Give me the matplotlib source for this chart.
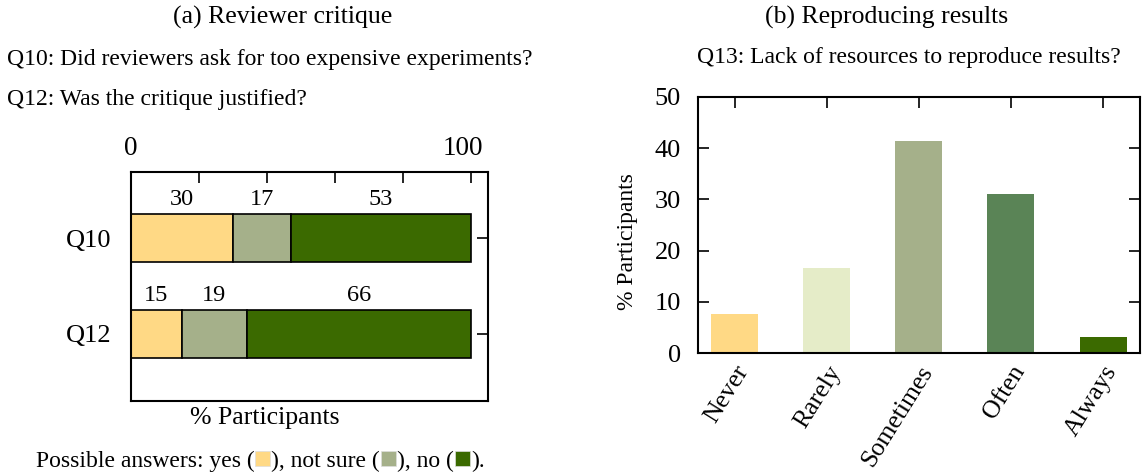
import matplotlib
matplotlib.use("Agg")
import matplotlib.pyplot as plt
import matplotlib.transforms as mtransforms
from matplotlib.patches import Rectangle

plt.rcParams["font.family"] = ["Liberation Serif", "DejaVu Sans"]

# ---- data ----
questions = ["Q10", "Q12"]
yes = [30, 15]
not_sure = [17, 19]
no = [53, 66]

freq_labels = ["Never", "Rarely", "Sometimes", "Often", "Always"]
freq_values = [7.7, 16.6, 41.4, 31.1, 3.2]

# ---- colours ----
c_yes, c_notsure, c_no = "#ffd985", "#a5b08a", "#3b6a00"
freq_colors = ["#ffd985", "#e5ecc8", "#a5b08a", "#5a8456", "#3b6a00"]

W, H = 1144, 472
fig = plt.figure(figsize=(W / 100, H / 100), dpi=100)


def px_axes(x0, y0, x1, y1):
    """axes from pixel box (top-left origin)"""
    return fig.add_axes([x0 / W, 1 - y1 / H, (x1 - x0) / W, (y1 - y0) / H])


def px_text(x, y, s, **kw):
    return fig.text(x / W, 1 - y / H, s, **kw)


# --------------------------------------------------------------------------
# (a) stacked horizontal bars
# --------------------------------------------------------------------------
ax1 = px_axes(131, 172, 488, 401)
ypos = list(range(len(questions)))
left = [0] * len(questions)
for vals, col in [(yes, c_yes), (not_sure, c_notsure), (no, c_no)]:
    ax1.barh(ypos, vals, left=left, height=0.5, color=col,
             edgecolor="black", linewidth=1.2)
    for y, l, v in zip(ypos, left, vals):
        ax1.annotate(str(v), xy=(l + v / 2, y - 0.25), xytext=(0, 3),
                     textcoords="offset points", ha="center", va="bottom",
                     fontsize=17.5)
    left = [l + v for l, v in zip(left, vals)]

ax1.set_xlim(0, 105)
ax1.set_ylim(1.7, -0.69)
ax1.xaxis.tick_top()
ax1.set_xticks([0, 20, 40, 60, 80, 100])
ax1.set_xticklabels(["0", "", "", "", "", "100"])
ax1.tick_params(axis="x", direction="in", length=8, width=1.2, labelsize=19.5, pad=8)
# gnuplot puts the "100" a little left of its tick
shift = mtransforms.ScaledTranslation(-8 / 100, 0, fig.dpi_scale_trans)
lab100 = ax1.xaxis.get_majorticklabels()[-1]
lab100.set_transform(lab100.get_transform() + shift)
ax1.set_yticks(ypos)
ax1.set_yticklabels(questions)
ax1.tick_params(axis="y", direction="in", left=False, right=True, length=8,
                width=1.2, labelsize=19, pad=14)
for sp in ax1.spines.values():
    sp.set_linewidth(1.5)

px_text(265, 418, "% Participants", ha="center", va="center", fontsize=18.5)

# --------------------------------------------------------------------------
# (b) frequency bars
# --------------------------------------------------------------------------
ax2 = px_axes(697.7, 96.7, 1140, 353.3)
xpos = list(range(len(freq_labels)))
ax2.bar(xpos, freq_values, width=0.51, color=freq_colors)
ax2.set_xlim(-0.4, 4.4)
ax2.set_ylim(0, 50)
ax2.set_xticks(xpos)
ax2.set_xticklabels(freq_labels, rotation=58, ha="right", va="top",
                    rotation_mode="anchor", fontsize=18.5)
ax2.tick_params(axis="x", direction="in", top=True, bottom=False, length=8,
                width=1.2, pad=6)
ax2.set_yticks([0, 10, 20, 30, 40, 50])
ax2.tick_params(axis="y", direction="in", left=True, right=True, length=8,
                width=1.2, labelsize=19, pad=12)
for sp in ax2.spines.values():
    sp.set_linewidth(1.5)
px_text(627, 241.5, "% Participants", ha="center", va="center",
        rotation=90, fontsize=17)

# --------------------------------------------------------------------------
# titles and questions
# --------------------------------------------------------------------------
px_text(283, 17, "(a) Reviewer critique", ha="center", va="center", fontsize=18.5)
px_text(7, 60, "Q10: Did reviewers ask for too expensive experiments?",
        ha="left", va="center", fontsize=17)
px_text(7, 100, "Q12: Was the critique justified?", ha="left", va="center",
        fontsize=17)
px_text(887, 17, "(b) Reproducing results", ha="center", va="center", fontsize=18.5)
px_text(909, 58, "Q13: Lack of resources to reproduce results?", ha="center",
        va="center", fontsize=17)

# ---- caption with coloured squares ----
fig.canvas.draw()
renderer = fig.canvas.get_renderer()
pieces = ["Possible answers: yes (", c_yes, "), not sure (", c_notsure,
          "), no (", c_no, ")."]
sq = 15
base_y = 467
items = []
total = 0
for p in pieces:
    if p.startswith("#"):
        items.append(("sq", p, sq + 2))
        total += sq + 2
    else:
        t = px_text(0, base_y, p, ha="left", va="baseline", fontsize=17)
        w = t.get_window_extent(renderer).width
        items.append(("txt", t, w))
        total += w
x = 260 - total / 2
for kind, obj, w in items:
    if kind == "txt":
        obj.set_x(x / W)
    else:
        fig.add_artist(Rectangle(((x + 1) / W, 1 - (base_y - 1) / H), sq / W, sq / H,
                                 transform=fig.transFigure, facecolor=obj,
                                 edgecolor="#dddddd", linewidth=0.5))
    x += w

fig.savefig("out.png", dpi=100)
